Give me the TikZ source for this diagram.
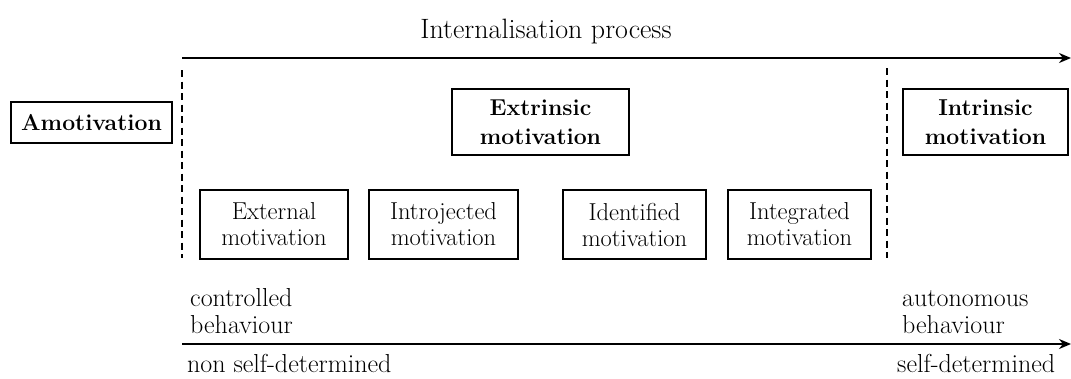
\documentclass[tikz,border=0pt]{standalone}
\usetikzlibrary{arrows.meta}
\begin{document}
\begin{tikzpicture}[x=1pt,y=-1pt,
  bigbox/.style={draw,line width=2.6pt,align=center,inner sep=0pt,font=\fontsize{23}{29}\selectfont\bfseries},
  smallbox/.style={draw,line width=1.3pt,align=center,inner sep=0pt,minimum height=69pt,font=\fontsize{24.5}{26}\selectfont},
  divider/.style={line width=1.5pt,dash pattern=on 7pt off 4.5pt},
  axis/.style={line width=2pt,-{Stealth[length=12pt,width=10pt]}},
  lbl/.style={align=left,inner sep=0pt,font=\fontsize{26}{27}\selectfont},
  ttl/.style={inner sep=0pt,font=\fontsize{28}{30}\selectfont}]
\useasboundingbox (0,0) rectangle (1071,378);
% axes
\coordinate (t0) at (182,58);
\coordinate (t1) at (1071,58);
\coordinate (b0) at (182,344);
\coordinate (b1) at (1071,344);
\draw[axis] (t0) -- (t1);
\draw[axis] (b0) -- (b1);
\node[ttl,anchor=base] (title) at (546,38) {Internalisation process};
% dividers
\coordinate (d1a) at (182,70);
\coordinate (d1b) at (182,258);
\coordinate (d2a) at (887,68);
\coordinate (d2b) at (887,258);
\draw[divider] (d1a) -- (d1b);
\draw[divider] (d2a) -- (d2b);
% big boxes
\node[bigbox,minimum width=161pt,minimum height=41pt] (amo) at (91.5,122.5) {Amotivation};
\node[bigbox,minimum width=177pt,minimum height=66pt] (ext) at (540.5,122) {Extrinsic\\motivation};
\node[bigbox,minimum width=165pt,minimum height=66pt] (int) at (985.5,122) {Intrinsic\\motivation};
% small boxes
\node[smallbox,minimum width=148pt] (s1) at (274,224.5) {External\\motivation};
\node[smallbox,minimum width=149pt] (s2) at (443.5,224.5) {Introjected\\motivation};
\node[smallbox,minimum width=143pt] (s3) at (634.5,224.5) {Identified\\motivation};
\node[smallbox,minimum width=143pt] (s4) at (799.5,224.5) {Integrated\\motivation};
% labels
\node[lbl,anchor=south west] (cb) at (190,334) {controlled\\behaviour};
\node[lbl,anchor=south west] (ab) at (902,334) {autonomous\\behaviour};
\node[lbl,anchor=base west] (nsd) at (187,372) {non self-determined};
\node[lbl,anchor=base west] (sd) at (897,372) {self-determined};
\end{tikzpicture}
\end{document}
